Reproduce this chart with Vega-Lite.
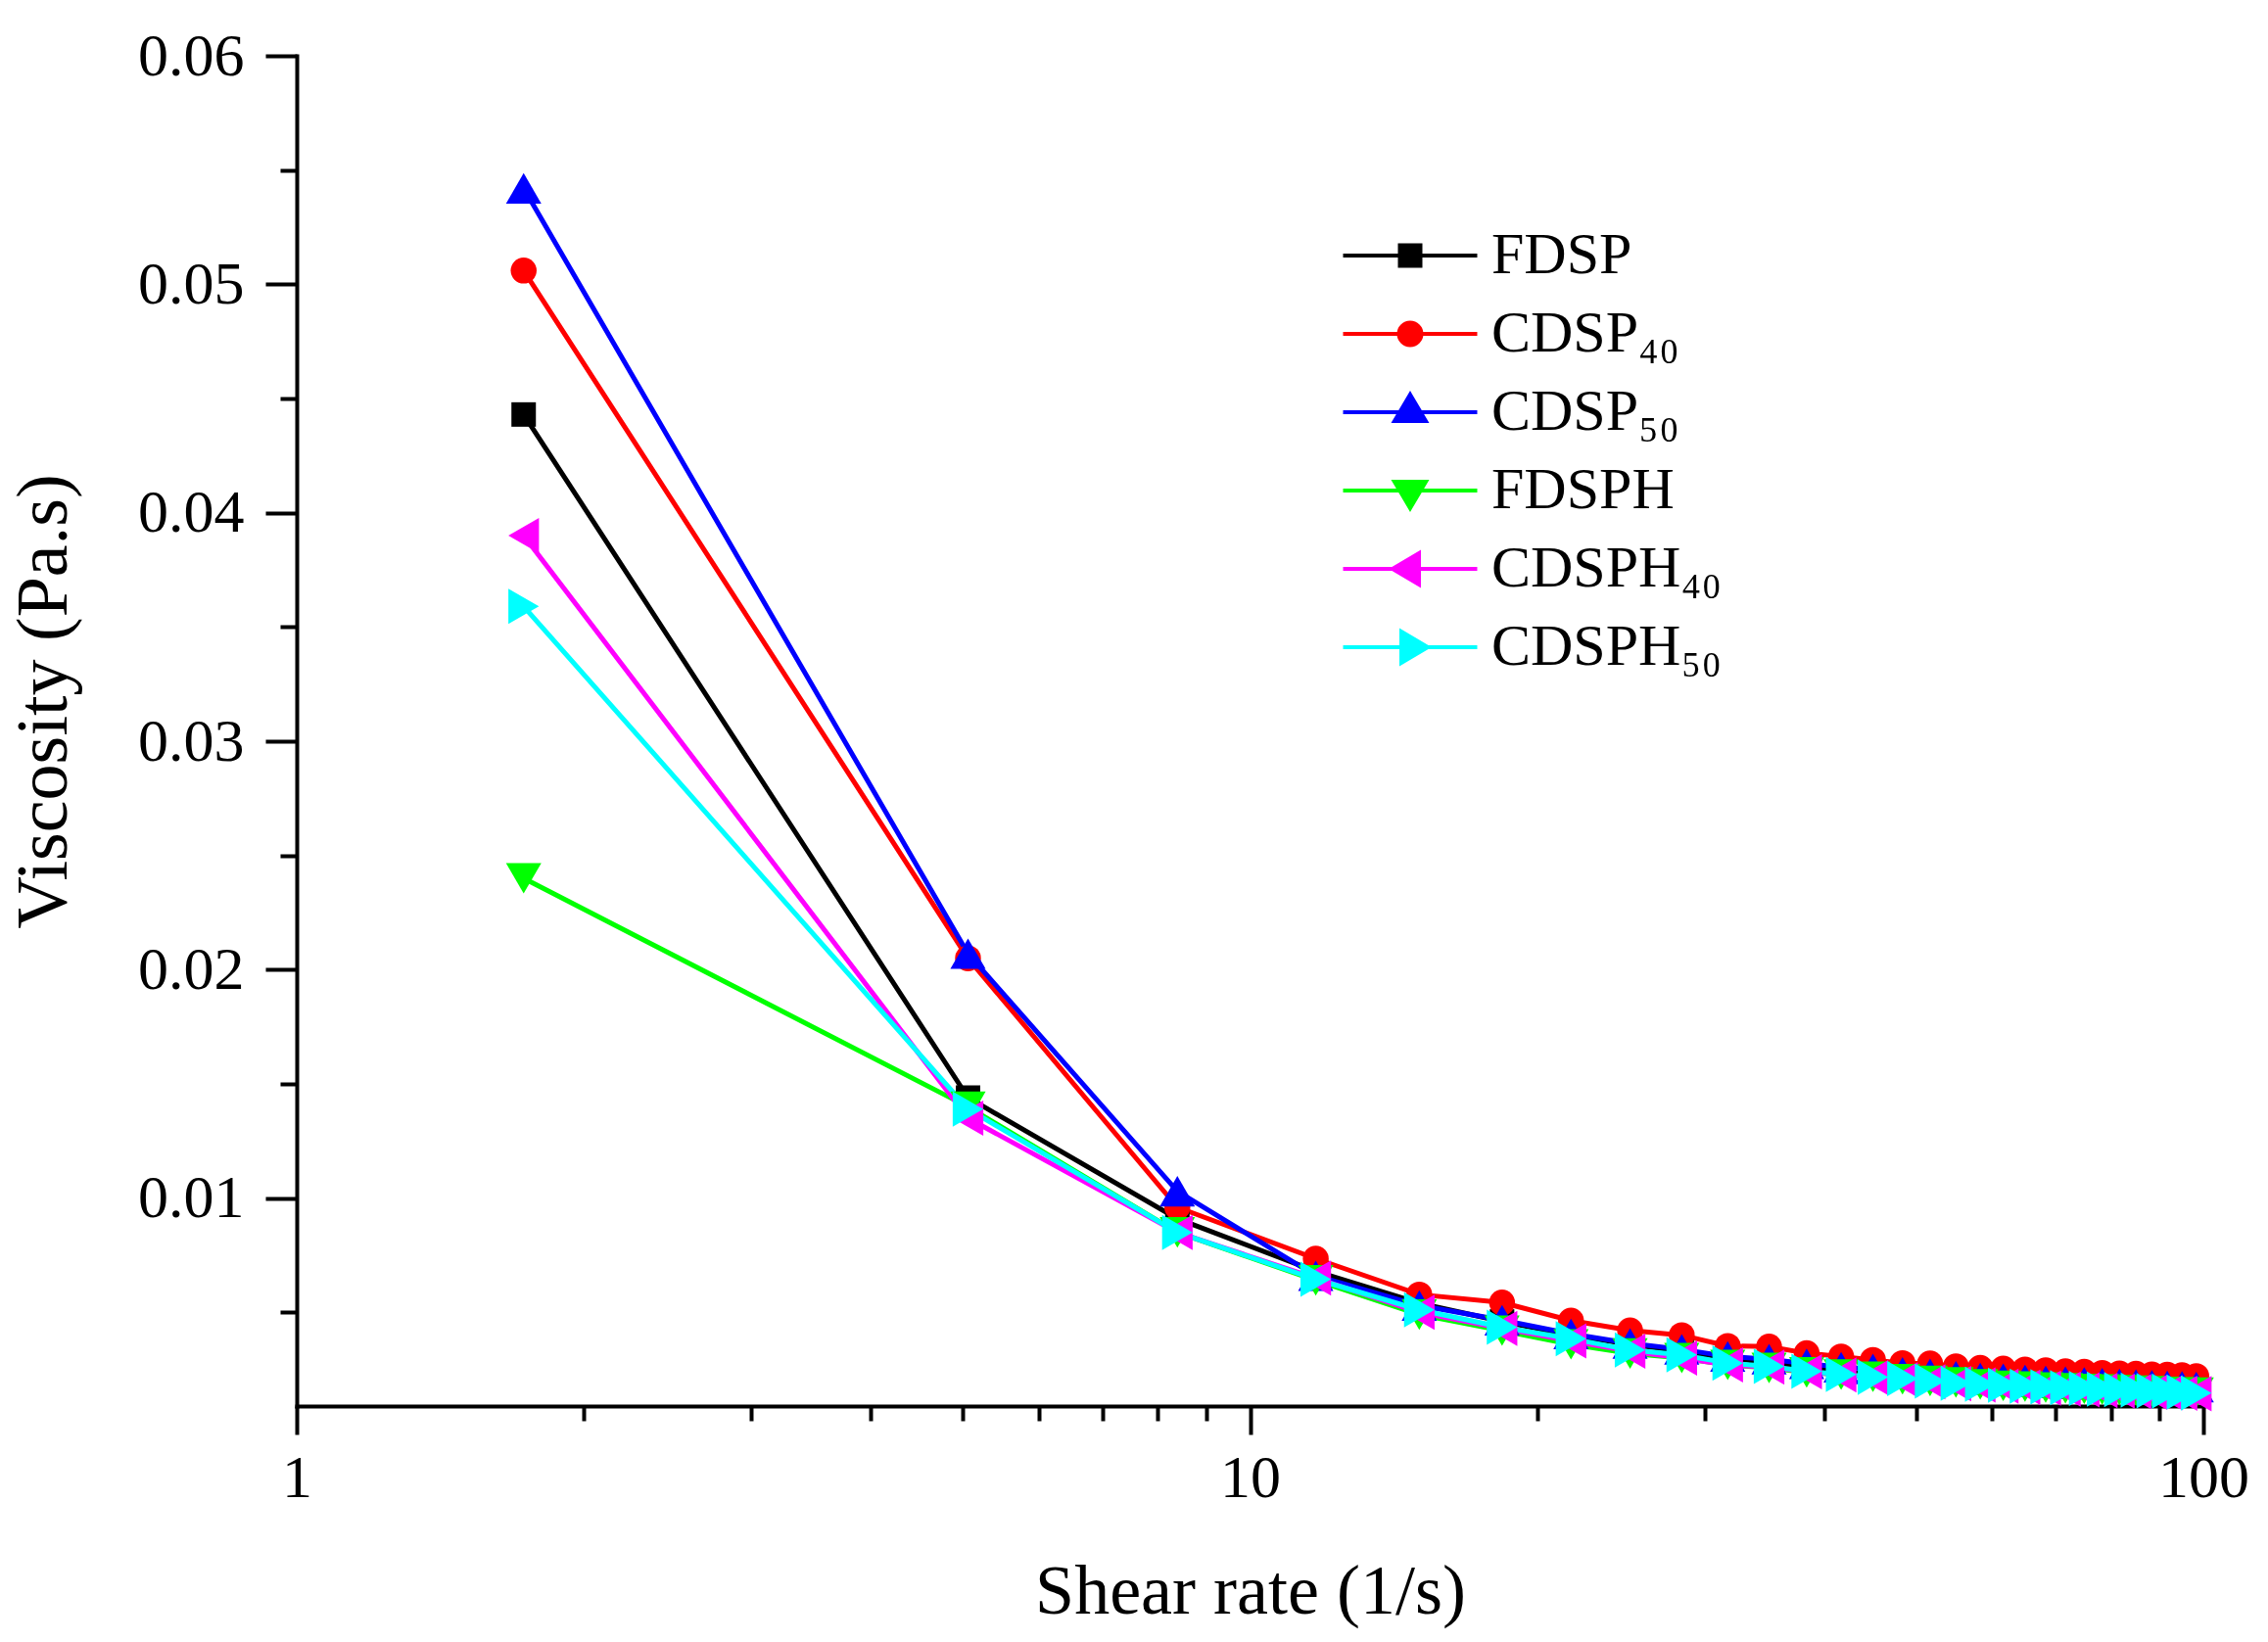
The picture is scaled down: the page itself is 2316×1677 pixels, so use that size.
{
  "$schema": "https://vega.github.io/schema/vega-lite/v6.json",
  "width": 1947,
  "height": 1379,
  "autosize": "none",
  "padding": {"left": 303, "top": 57, "right": 66, "bottom": 241},
  "background": "white",
  "config": {
    "view": {"stroke": null},
    "font": "Liberation Serif",
    "axis": {
      "grid": false,
      "domainColor": "black",
      "domainWidth": 4,
      "domainCap": "square",
      "tickColor": "black",
      "tickWidth": 4,
      "labelColor": "black",
      "labelFont": "Liberation Serif",
      "labelFlush": false,
      "labelOverlap": false,
      "titleColor": "black",
      "titleFont": "Liberation Serif",
      "titleFontWeight": "normal"
    }
  },
  "data": {
    "values": [
      {"sample": "FDSP", "rate": 1.73, "viscosity": 0.0443},
      {"sample": "FDSP", "rate": 5.06, "viscosity": 0.0144},
      {"sample": "FDSP", "rate": 8.39, "viscosity": 0.0091},
      {"sample": "FDSP", "rate": 11.72, "viscosity": 0.0068},
      {"sample": "FDSP", "rate": 15.05, "viscosity": 0.0054},
      {"sample": "FDSP", "rate": 18.38, "viscosity": 0.0046},
      {"sample": "FDSP", "rate": 21.71, "viscosity": 0.0040},
      {"sample": "FDSP", "rate": 25.04, "viscosity": 0.0036},
      {"sample": "FDSP", "rate": 28.37, "viscosity": 0.0033},
      {"sample": "FDSP", "rate": 31.70, "viscosity": 0.0030},
      {"sample": "FDSP", "rate": 35.03, "viscosity": 0.0028},
      {"sample": "FDSP", "rate": 38.36, "viscosity": 0.0026},
      {"sample": "FDSP", "rate": 41.69, "viscosity": 0.0024},
      {"sample": "FDSP", "rate": 45.02, "viscosity": 0.00228},
      {"sample": "FDSP", "rate": 48.35, "viscosity": 0.00218},
      {"sample": "FDSP", "rate": 51.68, "viscosity": 0.00208},
      {"sample": "FDSP", "rate": 55.01, "viscosity": 0.0020},
      {"sample": "FDSP", "rate": 58.34, "viscosity": 0.00193},
      {"sample": "FDSP", "rate": 61.67, "viscosity": 0.00188},
      {"sample": "FDSP", "rate": 65.00, "viscosity": 0.00183},
      {"sample": "FDSP", "rate": 68.33, "viscosity": 0.00179},
      {"sample": "FDSP", "rate": 71.66, "viscosity": 0.00175},
      {"sample": "FDSP", "rate": 74.99, "viscosity": 0.00172},
      {"sample": "FDSP", "rate": 78.32, "viscosity": 0.00169},
      {"sample": "FDSP", "rate": 81.65, "viscosity": 0.00166},
      {"sample": "FDSP", "rate": 84.98, "viscosity": 0.00163},
      {"sample": "FDSP", "rate": 88.31, "viscosity": 0.00161},
      {"sample": "FDSP", "rate": 91.64, "viscosity": 0.00158},
      {"sample": "FDSP", "rate": 94.97, "viscosity": 0.00156},
      {"sample": "FDSP", "rate": 98.30, "viscosity": 0.00154},
      {"sample": "CDSP₄₀", "rate": 1.73, "viscosity": 0.0506},
      {"sample": "CDSP₄₀", "rate": 5.06, "viscosity": 0.0205},
      {"sample": "CDSP₄₀", "rate": 8.39, "viscosity": 0.0096},
      {"sample": "CDSP₄₀", "rate": 11.72, "viscosity": 0.00735},
      {"sample": "CDSP₄₀", "rate": 15.05, "viscosity": 0.00578},
      {"sample": "CDSP₄₀", "rate": 18.38, "viscosity": 0.00543},
      {"sample": "CDSP₄₀", "rate": 21.71, "viscosity": 0.00464},
      {"sample": "CDSP₄₀", "rate": 25.04, "viscosity": 0.00421},
      {"sample": "CDSP₄₀", "rate": 28.37, "viscosity": 0.0040},
      {"sample": "CDSP₄₀", "rate": 31.70, "viscosity": 0.00353},
      {"sample": "CDSP₄₀", "rate": 35.03, "viscosity": 0.0035},
      {"sample": "CDSP₄₀", "rate": 38.36, "viscosity": 0.00321},
      {"sample": "CDSP₄₀", "rate": 41.69, "viscosity": 0.00307},
      {"sample": "CDSP₄₀", "rate": 45.02, "viscosity": 0.00292},
      {"sample": "CDSP₄₀", "rate": 48.35, "viscosity": 0.00278},
      {"sample": "CDSP₄₀", "rate": 51.68, "viscosity": 0.00276},
      {"sample": "CDSP₄₀", "rate": 55.01, "viscosity": 0.00264},
      {"sample": "CDSP₄₀", "rate": 58.34, "viscosity": 0.00257},
      {"sample": "CDSP₄₀", "rate": 61.67, "viscosity": 0.00254},
      {"sample": "CDSP₄₀", "rate": 65.00, "viscosity": 0.0025},
      {"sample": "CDSP₄₀", "rate": 68.33, "viscosity": 0.00247},
      {"sample": "CDSP₄₀", "rate": 71.66, "viscosity": 0.00242},
      {"sample": "CDSP₄₀", "rate": 74.99, "viscosity": 0.0024},
      {"sample": "CDSP₄₀", "rate": 78.32, "viscosity": 0.00235},
      {"sample": "CDSP₄₀", "rate": 81.65, "viscosity": 0.00233},
      {"sample": "CDSP₄₀", "rate": 84.98, "viscosity": 0.00231},
      {"sample": "CDSP₄₀", "rate": 88.31, "viscosity": 0.00228},
      {"sample": "CDSP₄₀", "rate": 91.64, "viscosity": 0.00227},
      {"sample": "CDSP₄₀", "rate": 94.97, "viscosity": 0.00225},
      {"sample": "CDSP₄₀", "rate": 98.30, "viscosity": 0.00221},
      {"sample": "CDSP₅₀", "rate": 1.73, "viscosity": 0.0542},
      {"sample": "CDSP₅₀", "rate": 5.06, "viscosity": 0.0207},
      {"sample": "CDSP₅₀", "rate": 8.39, "viscosity": 0.0103},
      {"sample": "CDSP₅₀", "rate": 11.72, "viscosity": 0.0066},
      {"sample": "CDSP₅₀", "rate": 15.05, "viscosity": 0.0053},
      {"sample": "CDSP₅₀", "rate": 18.38, "viscosity": 0.00466},
      {"sample": "CDSP₅₀", "rate": 21.71, "viscosity": 0.00406},
      {"sample": "CDSP₅₀", "rate": 25.04, "viscosity": 0.00364},
      {"sample": "CDSP₅₀", "rate": 28.37, "viscosity": 0.00338},
      {"sample": "CDSP₅₀", "rate": 31.70, "viscosity": 0.00307},
      {"sample": "CDSP₅₀", "rate": 35.03, "viscosity": 0.00295},
      {"sample": "CDSP₅₀", "rate": 38.36, "viscosity": 0.00275},
      {"sample": "CDSP₅₀", "rate": 41.69, "viscosity": 0.0026},
      {"sample": "CDSP₅₀", "rate": 45.02, "viscosity": 0.00252},
      {"sample": "CDSP₅₀", "rate": 48.35, "viscosity": 0.00237},
      {"sample": "CDSP₅₀", "rate": 51.68, "viscosity": 0.00231},
      {"sample": "CDSP₅₀", "rate": 55.01, "viscosity": 0.0022},
      {"sample": "CDSP₅₀", "rate": 58.34, "viscosity": 0.00213},
      {"sample": "CDSP₅₀", "rate": 61.67, "viscosity": 0.0021},
      {"sample": "CDSP₅₀", "rate": 65.00, "viscosity": 0.00204},
      {"sample": "CDSP₅₀", "rate": 68.33, "viscosity": 0.0020},
      {"sample": "CDSP₅₀", "rate": 71.66, "viscosity": 0.00197},
      {"sample": "CDSP₅₀", "rate": 74.99, "viscosity": 0.00193},
      {"sample": "CDSP₅₀", "rate": 78.32, "viscosity": 0.0019},
      {"sample": "CDSP₅₀", "rate": 81.65, "viscosity": 0.00187},
      {"sample": "CDSP₅₀", "rate": 84.98, "viscosity": 0.00184},
      {"sample": "CDSP₅₀", "rate": 88.31, "viscosity": 0.00181},
      {"sample": "CDSP₅₀", "rate": 91.64, "viscosity": 0.00178},
      {"sample": "CDSP₅₀", "rate": 94.97, "viscosity": 0.00176},
      {"sample": "CDSP₅₀", "rate": 98.30, "viscosity": 0.00173},
      {"sample": "FDSPH", "rate": 1.73, "viscosity": 0.0240},
      {"sample": "FDSPH", "rate": 5.06, "viscosity": 0.0140},
      {"sample": "FDSPH", "rate": 8.39, "viscosity": 0.0085},
      {"sample": "FDSPH", "rate": 11.72, "viscosity": 0.0064},
      {"sample": "FDSPH", "rate": 15.05, "viscosity": 0.0049},
      {"sample": "FDSPH", "rate": 18.38, "viscosity": 0.0042},
      {"sample": "FDSPH", "rate": 21.71, "viscosity": 0.0036},
      {"sample": "FDSPH", "rate": 25.04, "viscosity": 0.0032},
      {"sample": "FDSPH", "rate": 28.37, "viscosity": 0.0030},
      {"sample": "FDSPH", "rate": 31.70, "viscosity": 0.0027},
      {"sample": "FDSPH", "rate": 35.03, "viscosity": 0.00257},
      {"sample": "FDSPH", "rate": 38.36, "viscosity": 0.00237},
      {"sample": "FDSPH", "rate": 41.69, "viscosity": 0.00228},
      {"sample": "FDSPH", "rate": 45.02, "viscosity": 0.00218},
      {"sample": "FDSPH", "rate": 48.35, "viscosity": 0.00207},
      {"sample": "FDSPH", "rate": 51.68, "viscosity": 0.0020},
      {"sample": "FDSPH", "rate": 55.01, "viscosity": 0.00193},
      {"sample": "FDSPH", "rate": 58.34, "viscosity": 0.00185},
      {"sample": "FDSPH", "rate": 61.67, "viscosity": 0.00178},
      {"sample": "FDSPH", "rate": 65.00, "viscosity": 0.00175},
      {"sample": "FDSPH", "rate": 68.33, "viscosity": 0.00171},
      {"sample": "FDSPH", "rate": 71.66, "viscosity": 0.00168},
      {"sample": "FDSPH", "rate": 74.99, "viscosity": 0.00165},
      {"sample": "FDSPH", "rate": 78.32, "viscosity": 0.00162},
      {"sample": "FDSPH", "rate": 81.65, "viscosity": 0.00159},
      {"sample": "FDSPH", "rate": 84.98, "viscosity": 0.00157},
      {"sample": "FDSPH", "rate": 88.31, "viscosity": 0.00155},
      {"sample": "FDSPH", "rate": 91.64, "viscosity": 0.00152},
      {"sample": "FDSPH", "rate": 94.97, "viscosity": 0.0015},
      {"sample": "FDSPH", "rate": 98.30, "viscosity": 0.00148},
      {"sample": "CDSPH₄₀", "rate": 1.73, "viscosity": 0.0390},
      {"sample": "CDSPH₄₀", "rate": 5.06, "viscosity": 0.0135},
      {"sample": "CDSPH₄₀", "rate": 8.39, "viscosity": 0.0085},
      {"sample": "CDSPH₄₀", "rate": 11.72, "viscosity": 0.0065},
      {"sample": "CDSPH₄₀", "rate": 15.05, "viscosity": 0.0050},
      {"sample": "CDSPH₄₀", "rate": 18.38, "viscosity": 0.0043},
      {"sample": "CDSPH₄₀", "rate": 21.71, "viscosity": 0.00375},
      {"sample": "CDSPH₄₀", "rate": 25.04, "viscosity": 0.0033},
      {"sample": "CDSPH₄₀", "rate": 28.37, "viscosity": 0.0030},
      {"sample": "CDSPH₄₀", "rate": 31.70, "viscosity": 0.0027},
      {"sample": "CDSPH₄₀", "rate": 35.03, "viscosity": 0.0026},
      {"sample": "CDSPH₄₀", "rate": 38.36, "viscosity": 0.0024},
      {"sample": "CDSPH₄₀", "rate": 41.69, "viscosity": 0.00226},
      {"sample": "CDSPH₄₀", "rate": 45.02, "viscosity": 0.00214},
      {"sample": "CDSPH₄₀", "rate": 48.35, "viscosity": 0.00205},
      {"sample": "CDSPH₄₀", "rate": 51.68, "viscosity": 0.00196},
      {"sample": "CDSPH₄₀", "rate": 55.01, "viscosity": 0.00188},
      {"sample": "CDSPH₄₀", "rate": 58.34, "viscosity": 0.00182},
      {"sample": "CDSPH₄₀", "rate": 61.67, "viscosity": 0.00177},
      {"sample": "CDSPH₄₀", "rate": 65.00, "viscosity": 0.00172},
      {"sample": "CDSPH₄₀", "rate": 68.33, "viscosity": 0.00168},
      {"sample": "CDSPH₄₀", "rate": 71.66, "viscosity": 0.00164},
      {"sample": "CDSPH₄₀", "rate": 74.99, "viscosity": 0.00161},
      {"sample": "CDSPH₄₀", "rate": 78.32, "viscosity": 0.00158},
      {"sample": "CDSPH₄₀", "rate": 81.65, "viscosity": 0.00155},
      {"sample": "CDSPH₄₀", "rate": 84.98, "viscosity": 0.00153},
      {"sample": "CDSPH₄₀", "rate": 88.31, "viscosity": 0.0015},
      {"sample": "CDSPH₄₀", "rate": 91.64, "viscosity": 0.00148},
      {"sample": "CDSPH₄₀", "rate": 94.97, "viscosity": 0.00146},
      {"sample": "CDSPH₄₀", "rate": 98.30, "viscosity": 0.00144},
      {"sample": "CDSPH₅₀", "rate": 1.73, "viscosity": 0.0359},
      {"sample": "CDSPH₅₀", "rate": 5.06, "viscosity": 0.0139},
      {"sample": "CDSPH₅₀", "rate": 8.39, "viscosity": 0.0085},
      {"sample": "CDSPH₅₀", "rate": 11.72, "viscosity": 0.00645},
      {"sample": "CDSPH₅₀", "rate": 15.05, "viscosity": 0.00511},
      {"sample": "CDSPH₅₀", "rate": 18.38, "viscosity": 0.00435},
      {"sample": "CDSPH₅₀", "rate": 21.71, "viscosity": 0.00385},
      {"sample": "CDSPH₅₀", "rate": 25.04, "viscosity": 0.00335},
      {"sample": "CDSPH₅₀", "rate": 28.37, "viscosity": 0.00314},
      {"sample": "CDSPH₅₀", "rate": 31.70, "viscosity": 0.00278},
      {"sample": "CDSPH₅₀", "rate": 35.03, "viscosity": 0.00264},
      {"sample": "CDSPH₅₀", "rate": 38.36, "viscosity": 0.00242},
      {"sample": "CDSPH₅₀", "rate": 41.69, "viscosity": 0.00228},
      {"sample": "CDSPH₅₀", "rate": 45.02, "viscosity": 0.00216},
      {"sample": "CDSPH₅₀", "rate": 48.35, "viscosity": 0.0021},
      {"sample": "CDSPH₅₀", "rate": 51.68, "viscosity": 0.00199},
      {"sample": "CDSPH₅₀", "rate": 55.01, "viscosity": 0.0019},
      {"sample": "CDSPH₅₀", "rate": 58.34, "viscosity": 0.00185},
      {"sample": "CDSPH₅₀", "rate": 61.67, "viscosity": 0.00181},
      {"sample": "CDSPH₅₀", "rate": 65.00, "viscosity": 0.00177},
      {"sample": "CDSPH₅₀", "rate": 68.33, "viscosity": 0.00174},
      {"sample": "CDSPH₅₀", "rate": 71.66, "viscosity": 0.0017},
      {"sample": "CDSPH₅₀", "rate": 74.99, "viscosity": 0.00167},
      {"sample": "CDSPH₅₀", "rate": 78.32, "viscosity": 0.00164},
      {"sample": "CDSPH₅₀", "rate": 81.65, "viscosity": 0.00162},
      {"sample": "CDSPH₅₀", "rate": 84.98, "viscosity": 0.0016},
      {"sample": "CDSPH₅₀", "rate": 88.31, "viscosity": 0.00157},
      {"sample": "CDSPH₅₀", "rate": 91.64, "viscosity": 0.00155},
      {"sample": "CDSPH₅₀", "rate": 94.97, "viscosity": 0.00151},
      {"sample": "CDSPH₅₀", "rate": 98.30, "viscosity": 0.00147}
    ]
  },
  "layer": [
    {
      "mark": {"type": "line", "strokeWidth": 5},
      "encoding": {
        "x": {
          "field": "rate",
          "type": "quantitative",
          "scale": {"type": "log", "domain": [1, 100]},
          "axis": {
            "orient": "bottom",
            "values": [2, 3, 4, 5, 6, 7, 8, 9, 20, 30, 40, 50, 60, 70, 80, 90],
            "labels": false,
            "domain": false,
            "tickSize": 15,
            "title": null
          }
        },
        "y": {
          "field": "viscosity",
          "type": "quantitative",
          "scale": {"domain": [0.0009, 0.06], "nice": false, "zero": false},
          "axis": {
            "orient": "left",
            "values": [0.005, 0.015, 0.025, 0.035, 0.045, 0.055],
            "labels": false,
            "domain": false,
            "tickSize": 17,
            "title": null
          }
        },
        "color": {
          "field": "sample",
          "type": "nominal",
          "scale": {
            "domain": ["FDSP", "CDSP₄₀", "CDSP₅₀", "FDSPH", "CDSPH₄₀", "CDSPH₅₀"],
            "range": ["#000000", "#ff0000", "#0000ff", "#00ff00", "#ff00ff", "#00ffff"]
          },
          "legend": {
            "orient": "none",
            "legendX": 1105,
            "legendY": 172,
            "title": null,
            "padding": 0,
            "symbolSize": 3600,
            "symbolStrokeWidth": 4,
            "labelFont": "Liberation Serif",
            "labelFontSize": 60,
            "labelColor": "black",
            "labelLimit": 0,
            "labelOffset": 51,
            "rowPadding": 18,
            "encode": {
              "symbols": {
                "update": {
                  "shape": {"signal": "['M-2.283,0H2.283M-0.35,-0.35H0.35V0.35H-0.35Z', 'M-2.283,0H2.283M-0.383,0A0.383,0.383,0,1,0,0.383,0A0.383,0.383,0,1,0,-0.383,0Z', 'M-2.283,0H2.283M0,-0.6L0.533,0.3L-0.533,0.3Z', 'M-2.283,0H2.283M0,0.6L0.533,-0.3L-0.533,-0.3Z', 'M-2.283,0H2.283M-0.6,0L0.3,-0.533L0.3,0.533Z', 'M-2.283,0H2.283M0.6,0L-0.3,-0.533L-0.3,0.533Z'][datum.index]"},
                  "fill": {"scale": "color", "field": "value"},
                  "stroke": {"scale": "color", "field": "value"},
                  "strokeWidth": {"value": 4},
                  "size": {"value": 3600},
                  "opacity": {"value": 1}
                }
              }
            }
          }
        }
      }
    },
    {
      "mark": {"type": "point", "filled": true, "opacity": 1},
      "encoding": {
        "x": {
          "field": "rate",
          "type": "quantitative",
          "scale": {"type": "log", "domain": [1, 100]},
          "axis": {
            "orient": "bottom",
            "values": [1, 10, 100],
            "format": "d",
            "tickSize": 29,
            "labelFontSize": 62,
            "labelPadding": 14,
            "title": "Shear rate (1/s)",
            "titleFontSize": 72,
            "titlePadding": 50
          }
        },
        "y": {
          "field": "viscosity",
          "type": "quantitative",
          "scale": {"domain": [0.0009, 0.06], "nice": false, "zero": false},
          "axis": {
            "orient": "left",
            "values": [0.01, 0.02, 0.03, 0.04, 0.05, 0.06],
            "format": ".2f",
            "tickSize": 32,
            "labelFontSize": 62,
            "labelPadding": 22,
            "title": "Viscosity (Pa.s)",
            "titleFontSize": 74,
            "titlePadding": 57,
            "titleY": 659
          }
        },
        "color": {
          "field": "sample",
          "type": "nominal",
          "scale": {
            "domain": ["FDSP", "CDSP₄₀", "CDSP₅₀", "FDSPH", "CDSPH₄₀", "CDSPH₅₀"],
            "range": ["#000000", "#ff0000", "#0000ff", "#00ff00", "#ff00ff", "#00ffff"]
          },
          "legend": null
        },
        "shape": {
          "field": "sample",
          "type": "nominal",
          "scale": {
            "domain": ["FDSP", "CDSP₄₀", "CDSP₅₀", "FDSPH", "CDSPH₄₀", "CDSPH₅₀"],
            "range": ["square", "circle", "triangle-up", "triangle-down", "triangle-left", "triangle-right"]
          },
          "legend": null
        },
        "size": {
          "field": "sample",
          "type": "nominal",
          "scale": {
            "type": "ordinal",
            "domain": ["FDSP", "CDSP₄₀", "CDSP₅₀", "FDSPH", "CDSPH₄₀", "CDSPH₅₀"],
            "range": [625, 700, 1300, 1300, 1300, 1300]
          },
          "legend": null
        }
      }
    }
  ],
  "resolve": {
    "axis": {"x": "independent", "y": "independent"},
    "legend": {"color": "independent"}
  }
}
